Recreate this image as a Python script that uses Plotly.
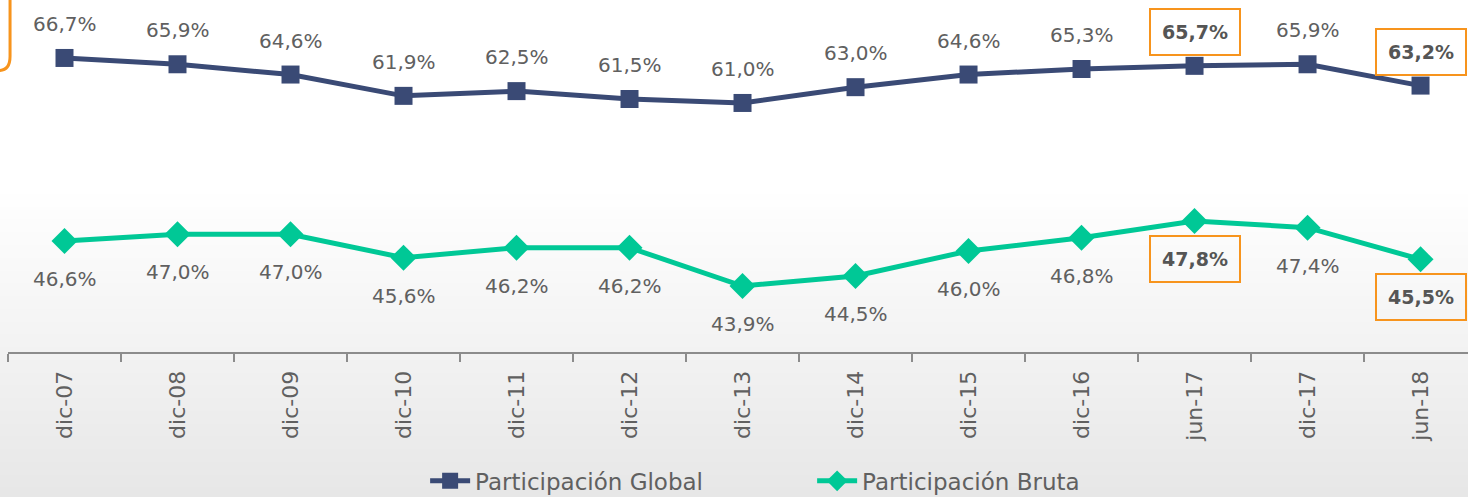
import plotly.graph_objects as go

categories = ["dic-07", "dic-08", "dic-09", "dic-10", "dic-11", "dic-12", "dic-13",
              "dic-14", "dic-15", "dic-16", "jun-17", "dic-17", "jun-18"]
global_vals = [66.7, 65.9, 64.6, 61.9, 62.5, 61.5, 61.0, 63.0, 64.6, 65.3, 65.7, 65.9, 63.2]
bruta_vals = [46.6, 47.0, 47.0, 45.6, 46.2, 46.2, 43.9, 44.5, 46.0, 46.8, 47.8, 47.4, 45.5]
highlight = ["jun-17", "jun-18"]

navy = "#3A4A75"
green = "#00C896"
orange = "#F7941D"
gray_text = "#606060"
FONT = "'DejaVu Sans', sans-serif"

fig = go.Figure()

# very subtle background shading towards the bottom
n_bands = 24
for i in range(n_bands):
    top = 0.45 - i * (0.87 / n_bands)
    fig.add_shape(type="rect", xref="paper", yref="paper",
                  x0=-0.01, x1=1.01, y0=-0.42, y1=top,
                  fillcolor="rgba(110,110,110,0.0028)", line_width=0, layer="below")

fig.add_trace(go.Scatter(
    x=categories, y=global_vals, name="Participación Global", mode="lines+markers",
    line=dict(color=navy, width=5), marker=dict(symbol="square", size=18, color=navy),
    yaxis="y", cliponaxis=False))
fig.add_trace(go.Scatter(
    x=categories, y=bruta_vals, name="Participación Bruta", mode="lines+markers",
    line=dict(color=green, width=5), marker=dict(symbol="diamond", size=20, color=green),
    yaxis="y2", cliponaxis=False))

def fmt(v):
    return ("%.1f%%" % v).replace(".", ",")

def add_label(c, v, yref, shift):
    hl = c in highlight
    fig.add_annotation(
        x=c, y=v, yref=yref, yshift=shift, showarrow=False,
        text=("<b>%s</b>" % fmt(v)) if hl else fmt(v),
        font=dict(family=FONT, size=19 if hl else 20, color="#555555" if hl else gray_text),
        bordercolor=orange if hl else "rgba(0,0,0,0)", borderwidth=2 if hl else 0,
        borderpad=11 if hl else 0, bgcolor="rgba(0,0,0,0)")

for c, v in zip(categories, global_vals):
    add_label(c, v, "y", 34)
for c, v in zip(categories, bruta_vals):
    add_label(c, v, "y2", -38)

# partial orange box at top-left edge
fig.add_shape(type="path", xref="paper", yref="paper",
              path="M 0.0014 1.02 L 0.0014 0.84 Q 0.0014 0.80 -0.006 0.80",
              line=dict(color=orange, width=3))

fig.update_layout(
    width=1468, height=497,
    margin=dict(l=8, r=0, t=0, b=145, autoexpand=False),
    paper_bgcolor="white", plot_bgcolor="rgba(0,0,0,0)",
    showlegend=True,
    legend=dict(orientation="h", x=0.2857, xanchor="left", y=-0.366, yanchor="middle",
                font=dict(family=FONT, size=23, color=gray_text), itemwidth=40,
                entrywidth=332, bgcolor="rgba(0,0,0,0)"),
    xaxis=dict(type="category", range=[-0.5, 12.42], showline=True, linecolor="#8C8C8C",
               linewidth=2, ticks="outside", tickson="boundaries", ticklen=8,
               tickcolor="#8C8C8C", tickwidth=2, tickangle=-90, ticklabelstandoff=8,
               tickfont=dict(family=FONT, size=22, color=gray_text), showgrid=False,
               zeroline=False, automargin=False),
    yaxis=dict(range=[29.46, 74.04], visible=False, showgrid=False),
    yaxis2=dict(range=[39.94, 61.06], overlaying="y", visible=False, showgrid=False),
)

fig.write_html("out.html", config={"displayModeBar": False},
               post_script="document.body.style.margin='0';document.body.style.overflow='hidden';")
